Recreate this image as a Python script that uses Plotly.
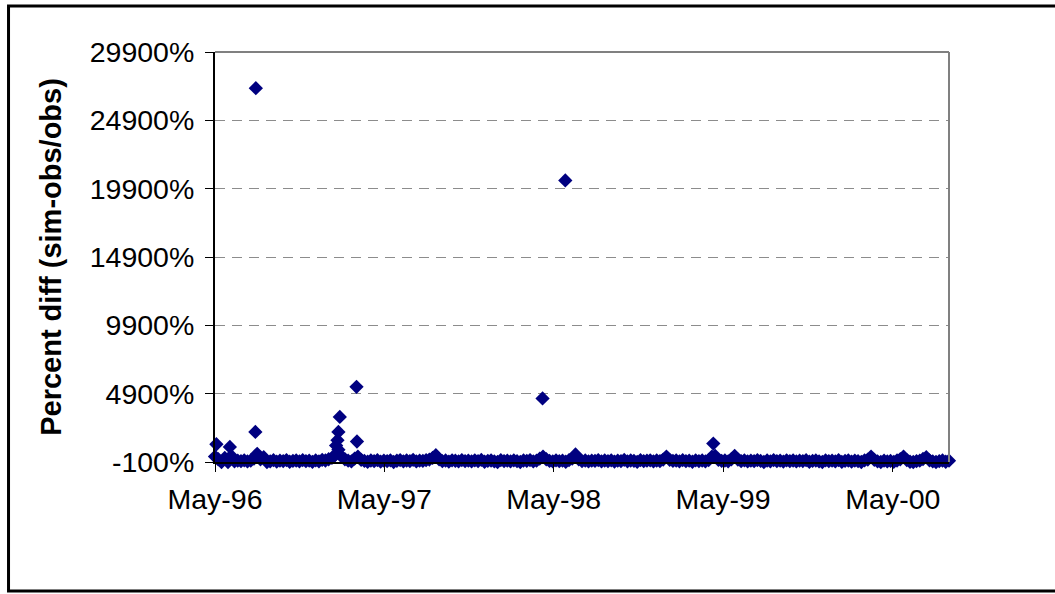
import pandas as pd
import plotly.graph_objects as go

# Weekly percent differences, (sim - obs) / obs, in percent
start_date = "1996-05-01"
weekly_pct = [
    300, 100, -100, 200, -100, 350, -50, 0, -40, 20, -60, 10, 150, 500, 100, 250, -100, -50, 30, -70,
    0, -30, 40, -80, -20, 10, -60, 30, -40, 0, -90, 20, -50, 50, 10, 100, 200, 400, 800, 300,
    100, 0, -60, 150, 300, 50, -20, -80, 10, -40, 30, -70, 0, -30, 20, -100, -10, 40, -50, 10,
    -30, 60, -60, 0, -20, 30, 80, 200, 400, 100, -40, 10, -70, 20, -10, -50, 40, -30, 0, -60,
    20, -40, 50, -80, -20, 10, -60, -100, 30, -30, 0, -50, 20, -40, -100, 10, -20, 40, -60, 0,
    150, 300, 100, -20, -60, 20, -40, 0, -80, 30, 150, 450, 100, -30, 10, -50, 0, -20, 40, -60,
    10, -40, 20, -70, 0, -30, 50, -50, 10, -20, -90, 30, -40, 0, 20, -60, 10, -30, 80, 300,
    60, -20, 10, -50, 30, -40, 0, -80, 20, -30, 10, -60, 40, 300, 350, 50, -20, 10, -50, 100,
    350, 80, -30, 20, -60, 0, -40, 30, -20, -100, 10, -50, 40, -30, 0, -70, 20, -40, 10, -60,
    0, -30, 30, -80, -20, 10, -50, -100, 20, -40, 0, -60, 30, -90, -20, 10, -70, 0, -40, -100,
    20, 80, 300, 60, -50, -100, 0, -60, -20, -90, 10, 100, 300, 40, -80, -100, -30, 0, 120, 250,
    20, -60, -100, -40, 10, -80, 0,
]

# Individual large deviations
peak_dates = [
    "1996-05-04", "1996-06-02", "1996-07-27", "1996-07-28", "1997-01-17", "1997-01-20",
    "1997-01-22", "1997-01-25", "1997-03-02", "1997-03-03", "1998-04-07", "1998-05-26",
    "1999-04-10",
]
peak_pct = [1200, 1000, 2100, 27250, 1100, 1500, 2100, 3200, 5400, 1400, 4550, 20500, 1250]

x_range = ["1996-05-01", "2000-08-30"]
y_ticks = [-100, 4900, 9900, 14900, 19900, 24900, 29900]
y_tick_text = [f"{v}%" for v in y_ticks]

weekly_dates = pd.date_range(start_date, periods=len(weekly_pct), freq="7D")
dates = list(weekly_dates) + list(pd.to_datetime(peak_dates))
values = weekly_pct + peak_pct

font_family = "Liberation Sans, Arial, sans-serif"

fig = go.Figure(
    go.Scatter(
        x=dates,
        y=values,
        mode="markers",
        marker=dict(symbol="diamond", size=11, color="#000080", line=dict(width=0)),
        cliponaxis=False,
        showlegend=False,
    )
)

fig.update_layout(
    width=1055,
    height=594,
    margin=dict(l=215, r=106, t=52, b=132),
    paper_bgcolor="white",
    plot_bgcolor="white",
    font=dict(family=font_family, size=28.5, color="black"),
    xaxis=dict(
        type="date",
        range=x_range,
        tick0="1996-05-01",
        dtick="M12",
        tickformat="%b-%y",
        ticks="outside",
        ticklen=8,
        tickwidth=1,
        tickcolor="black",
        ticklabelstandoff=3,
        showline=True,
        linecolor="black",
        linewidth=1.5,
        showgrid=False,
        zeroline=False,
    ),
    yaxis=dict(
        range=[y_ticks[0], y_ticks[-1]],
        tickvals=y_ticks,
        ticktext=y_tick_text,
        ticks="outside",
        ticklen=8,
        tickwidth=1,
        tickcolor="black",
        ticklabelstandoff=5,
        showline=True,
        linecolor="black",
        linewidth=2,
        showgrid=True,
        gridcolor="#8c8c8c",
        griddash="10px,7px",
        gridwidth=1,
        zeroline=False,
        title=dict(
            text="Percent diff (sim-obs/obs)",
            font=dict(family=font_family, size=29, weight="bold"),
            standoff=20,
        ),
    ),
    shapes=[
        # plot area border (top and right edges)
        dict(type="line", xref="paper", yref="paper", x0=0, x1=1, y0=1, y1=1,
             line=dict(color="#808080", width=2)),
        dict(type="line", xref="paper", yref="paper", x0=1, x1=1, y0=0, y1=1,
             line=dict(color="#808080", width=2)),
        # chart area frame
        dict(type="rect", xref="paper", yref="paper",
             x0=-0.2813, x1=1.16, y0=-0.3146, y1=1.112,
             line=dict(color="black", width=3), layer="below"),
    ],
)

fig.write_html("out.html")
